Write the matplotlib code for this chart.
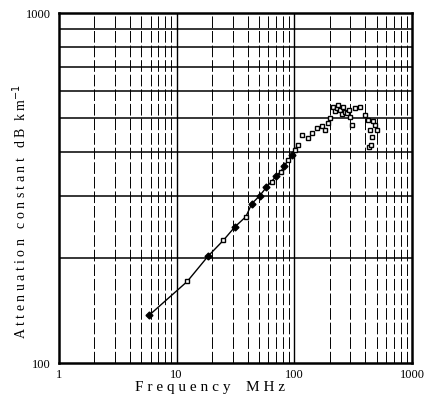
import matplotlib
matplotlib.use("Agg")
import matplotlib.pyplot as plt
from matplotlib.ticker import FixedLocator, NullFormatter, FixedFormatter

# Data (MHz, dB/km)
line_freq = [5.85, 12.3, 18.5, 24.9, 31.3, 38.8, 43.4, 51, 58, 64, 70, 76.5, 82, 88.7, 95, 101, 107]
line_att = [137, 171, 202, 224, 245, 262, 285, 301, 318, 330, 342, 352, 365, 380, 393, 406, 420]

filled_freq = [5.85, 18.5, 31.3, 43.4, 51, 58, 70, 82, 95]
filled_att = [137, 202, 245, 285, 301, 318, 342, 365, 393]

open_freq = [12.3, 24.9, 38.8, 64, 76.5, 88.7, 101, 107,
             117, 131, 140, 155, 171, 182, 194, 201, 214, 222, 229, 236, 244,
             252, 260, 270, 278, 290, 297, 307, 327, 361, 398, 425, 439, 454,
             430, 484, 500, 470, 445]
open_att = [171, 224, 262, 330, 352, 380, 406, 420,
            448, 438, 453, 468, 476, 463, 484, 500, 540, 525, 534, 545, 528,
            515, 540, 520, 517, 530, 505, 479, 534, 540, 511, 495, 463, 443,
            415, 479, 463, 490, 420]

x_ticks = [1, 10, 100, 1000]
x_labels = ["1", "10", "100", "1000"]
y_ticks = [100, 1000]
y_labels = ["100", "1000"]

plt.rcParams['font.family'] = ['Liberation Serif', 'DejaVu Serif']

fig = plt.figure(figsize=(4.31, 4.07), dpi=100)
ax = fig.add_axes([59/431, 44/407, 353/431, 350/407])
ax.set_xscale('log')
ax.set_yscale('log')
ax.set_xlim(1, 1000)
ax.set_ylim(100, 1000)

# grid
for dec in [1, 10, 100]:
    for m in range(2, 10):
        ax.axvline(dec*m, color='black', lw=0.7, ls=(0, (12, 3)), zorder=1)
    if dec > 1:
        ax.axvline(dec, color='black', lw=1.0, zorder=1)
for m in range(2, 10):
    ax.axhline(100*m, color='black', lw=1.1, zorder=1)

ax.plot(line_freq, line_att, color='black', lw=1.0, zorder=2)
ax.plot(filled_freq, filled_att, ls='none', marker='D', ms=3.5, color='black', zorder=3)
ax.plot(open_freq, open_att, ls='none', marker='s', ms=3.5, mfc='white', mec='black', mew=1.0, zorder=3)

for s in ax.spines.values():
    s.set_linewidth(1.8)

ax.xaxis.set_major_locator(FixedLocator(x_ticks))
ax.xaxis.set_major_formatter(FixedFormatter(x_labels))
ax.xaxis.set_minor_formatter(NullFormatter())
ax.yaxis.set_major_locator(FixedLocator(y_ticks))
ax.yaxis.set_major_formatter(FixedFormatter(y_labels))
ax.yaxis.set_minor_formatter(NullFormatter())
ax.tick_params(which='both', length=0, labelsize=9, pad=4)
ax.tick_params(axis='y', pad=6)

fig.text(210/431, 1 - 387/407, "F r e q u e n c y    M H z", ha='center', va='center', fontsize=11)
fig.text(20/431, 1 - 212/407, "A t t e n u a t i o n   c o n s t a n t   d B  k m$^{-1}$",
         ha='center', va='center', rotation=90, fontsize=10)

fig.savefig("out.png", dpi=100)
